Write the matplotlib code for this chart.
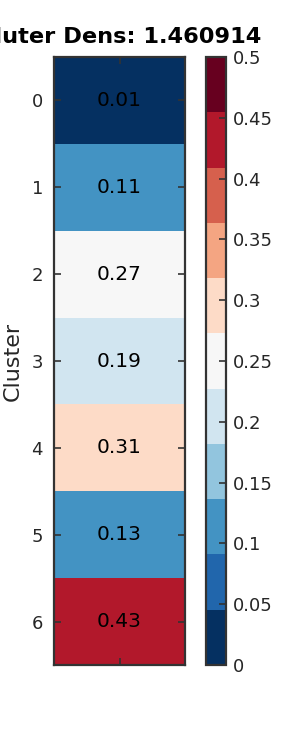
import numpy as np
import matplotlib
matplotlib.use('Agg')
import matplotlib.pyplot as plt

clusters = [0, 1, 2, 3, 4, 5, 6]
density = [0.01, 0.11, 0.27, 0.19, 0.31, 0.13, 0.43]
cbar_ticks = [0, 0.05, 0.1, 0.15, 0.2, 0.25, 0.3, 0.35, 0.4, 0.45, 0.5]
title = 'Cluter Dens: 1.460914'

text_col = '#262626'
edge_col = '#333333'
cmap = matplotlib.colormaps['RdBu_r'].resampled(11)

fig = plt.figure(figsize=(3, 7.5), dpi=100)
ax = fig.add_axes([0.18, 0.1133, 0.4367, 0.8107])
cax = fig.add_axes([0.688, 0.1133, 0.064, 0.8107])

data = np.array(density).reshape(-1, 1)
mesh = ax.pcolormesh(data, cmap=cmap, vmin=0, vmax=0.5)
ax.set_xlim(0, 1)
ax.set_ylim(len(clusters), 0)

for i, v in enumerate(density):
    ax.text(0.5, i + 0.5, f'{v:.2f}', ha='center', va='center', fontsize=14.5, color='black')

ax.set_yticks(np.arange(len(clusters)) + 0.5)
ax.set_yticklabels([str(c) for c in clusters], fontsize=13, color=text_col)
ax.set_xticks([0.5])
ax.set_xticklabels([''])
ax.tick_params(direction='in', length=5, width=1.2, color=edge_col, top=True, right=True, pad=8)
ax.set_ylabel('Cluster', fontsize=16, color=text_col, labelpad=6)
ax.set_title(title, fontsize=16.2, fontweight='bold', color='black', pad=10)
for s in ax.spines.values():
    s.set_color(edge_col)
    s.set_linewidth(1.6)

cb = fig.colorbar(mesh, cax=cax, ticks=cbar_ticks)
cb.ax.set_yticklabels([f'{t:g}' for t in cbar_ticks], fontsize=13, color=text_col)
cb.ax.tick_params(direction='in', length=5, width=1.2, color=edge_col, pad=5)
cb.outline.set_edgecolor(edge_col)
cb.outline.set_linewidth(1.6)

plt.savefig('out.png', dpi=100)
